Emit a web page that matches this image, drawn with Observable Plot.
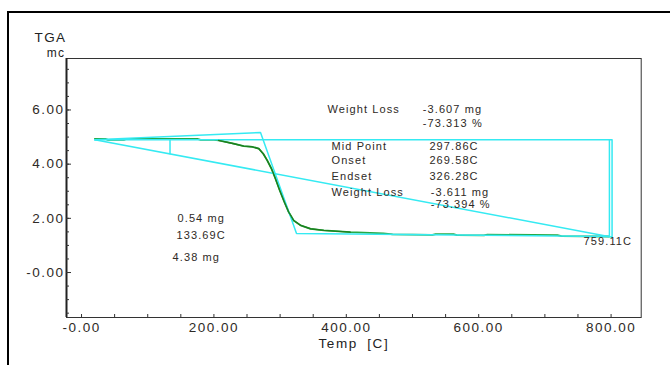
<!DOCTYPE html>
<html><head><meta charset="utf-8">
<script src="https://cdn.jsdelivr.net/npm/d3@7"></script>
<script src="https://cdn.jsdelivr.net/npm/@observablehq/plot@0.6"></script>
<style>
body{margin:0;background:#fff;}
#wrap{position:relative;width:670px;height:365px;overflow:hidden;background:#fff;}
#wrap svg{position:absolute;left:0;top:0;}
#frame{position:absolute;left:7px;top:11px;width:700px;height:400px;border-top:2px solid #000;border-left:2px solid #000;}
g[aria-label="y-axis tick label"] text, g[aria-label="x-axis tick label"] text {letter-spacing:1.5px;}
</style></head><body><div id="wrap"><div id="frame"></div></div>
<script>
// TGA curve (temperature °C, mass mg)
const tgaTemp = [20, 36, 40, 64, 68, 120, 175, 180, 200, 207, 230, 245, 258, 268, 274.5, 280.5, 287, 293, 299.5, 306.5, 313, 320.5, 331, 346, 366, 406, 456, 470, 530, 535, 562, 567, 608, 613, 719, 725, 797];
const tgaMass = [4.93, 4.93, 4.90, 4.90, 4.93, 4.935, 4.93, 4.90, 4.90, 4.876, 4.755, 4.665, 4.64, 4.57, 4.385, 4.14, 3.83, 3.46, 3.03, 2.6, 2.23, 1.92, 1.74, 1.615, 1.555, 1.49, 1.445, 1.406, 1.392, 1.42, 1.415, 1.384, 1.374, 1.40, 1.378, 1.347, 1.33];

// analysis construction lines (cyan)
const stepTemp = [20, 270.4, 324.8, 796];
const stepMass = [4.90, 5.17, 1.44, 1.33];
const diagTemp = [20, 796];
const diagMass = [4.90, 1.33];
const boxTemp = [20, 801.5, 801.5, 796];
const boxMass = [4.90, 4.90, 1.30, 1.33];
const innerTemp = [797.5, 797.5];
const innerMass = [4.90, 1.33];
const markTemp = [133.69, 133.69];
const markMass = [4.90, 4.38];

// annotation texts
const annoText = ["Weight Loss", "-3.607 mg", "-73.313 %", "Mid Point", "297.86C", "Onset", "269.58C", "Endset", "326.28C", "Weight Loss", "-3.611 mg", "-73.394 %", "759.11C", "0.54 mg", "133.69C", "4.38 mg"];
const annoX = [371.6, 515.5, 515.5, 377.6, 525.5, 377.6, 525.5, 377.6, 525.5, 377.6, 527.5, 527.5, 758.5, 145, 143.5, 137.5];
const annoY = [5.87, 5.87, 5.39, 4.54, 4.54, 3.99, 3.99, 3.40, 3.40, 2.81, 2.81, 2.37, 1.00, 1.88, 1.25, 0.44];

// axis titles
const yTitle = ["TGA", "mc"];
const xTitle = "Temp [C]";

// axes
const xMajor = [0, 200, 400, 600, 800];
const xMinor = d3.range(0, 801, 50);
const yMajor = [0, 2, 4, 6];
const yMinor = d3.range(-1.5, 7.51, 0.5);
const xDomain = [-22.7, 845.5];
const yDomain = [-1.66, 7.9];

const W = 670, H = 365, mL = 66, mR = 29.3, mT = 58, mB = 48;
const pw = W - mL - mR, ph = H - mT - mB;
const fmt = d => d === 0 ? "-0.00" : d.toFixed(2);
const line = (xs, ys) => xs.map((x, i) => ({x, y: ys[i]}));
const cyan = "#35eaf2";
const ink = "#2e2a26";
const curve = line(tgaTemp, tgaMass);

const chart = Plot.plot({
  width: W, height: H,
  marginLeft: mL, marginRight: mR, marginTop: mT, marginBottom: mB,
  style: {fontFamily: "'Liberation Sans', Arial, sans-serif", background: "transparent"},
  x: {domain: xDomain, axis: null},
  y: {domain: yDomain, axis: null},
  marks: [
    Plot.frame({stroke: "#333", strokeWidth: 1}),
    Plot.ruleX([xDomain[0]], {stroke: "#222", strokeWidth: 2}),
    Plot.ruleY(yMinor, {insetRight: pw - 3, stroke: "#333"}),
    Plot.ruleY(yMajor, {insetRight: pw - 5, stroke: "#333"}),
    Plot.ruleX(xMinor, {insetTop: ph - 3, stroke: "#333"}),
    Plot.axisY({ticks: yMajor, tickSize: 0, tickPadding: 2, tickFormat: fmt, fontSize: 13.5, fill: ink, label: null}),
    Plot.axisX({ticks: xMajor, tickSize: 0, tickPadding: 5, tickFormat: fmt, fontSize: 13.5, fill: ink, label: null}),
    Plot.line(curve, {x: "x", y: "y", stroke: "#26a845", strokeWidth: 1.8}),
    Plot.line(line(stepTemp, stepMass), {x: "x", y: "y", stroke: cyan, strokeWidth: 1.5}),
    Plot.line(line(diagTemp, diagMass), {x: "x", y: "y", stroke: cyan, strokeWidth: 1.5}),
    Plot.line(line(boxTemp, boxMass), {x: "x", y: "y", stroke: cyan, strokeWidth: 1.5}),
    Plot.line(line(innerTemp, innerMass), {x: "x", y: "y", stroke: cyan, strokeWidth: 1.5}),
    Plot.line(line(markTemp, markMass), {x: "x", y: "y", stroke: cyan, strokeWidth: 1.5}),
    Plot.line(curve.filter(d => d.x > 205 && d.x < 420), {x: "x", y: "y", stroke: "#1d7f1d", strokeWidth: 1.4}),
    Plot.text(annoText, {x: (d, i) => annoX[i], y: (d, i) => annoY[i], text: d => d, textAnchor: "start", lineAnchor: "bottom", fontSize: 11, fill: ink}),
    Plot.text([yTitle[0]], {frameAnchor: "top-left", dx: 0, dy: -17, textAnchor: "end", lineAnchor: "bottom", fontSize: 13.5, fill: "#222"}),
    Plot.text([yTitle[1]], {frameAnchor: "top-left", dx: -1, dy: -1.5, textAnchor: "end", lineAnchor: "bottom", fontSize: 12, fill: "#222"}),
    Plot.text([xTitle], {frameAnchor: "bottom", dx: 0, dy: 30, lineAnchor: "bottom", fontSize: 13.5, fill: "#222"})
  ]
});
// widen letter spacing like the original instrument font
const annoSet = new Set(annoText);
d3.select(chart).selectAll("text").each(function() {
  const t = this.textContent;
  if (annoSet.has(t)) { this.style.letterSpacing = "1.1px"; }
  else if (t === xTitle) { this.style.letterSpacing = "1.6px"; this.style.wordSpacing = "4px"; }
  else if (yTitle.includes(t)) { this.style.letterSpacing = "1.4px"; }
});
document.getElementById("wrap").appendChild(chart);
</script>
</body></html>
